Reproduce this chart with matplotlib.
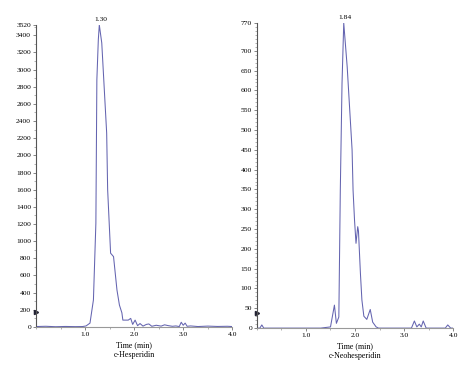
import numpy as np
import matplotlib
matplotlib.use("Agg")
import matplotlib.pyplot as plt
from matplotlib.ticker import MultipleLocator, FixedLocator

plt.rcParams['font.family'] = ['Liberation Serif', 'DejaVu Serif']

# c-Hesperidin chromatogram (time in min, intensity)
hesp_t = [0.0, 0.2, 0.4, 0.6, 0.8, 0.95, 1.02, 1.10, 1.17, 1.22, 1.24, 1.27, 1.29,
          1.34, 1.44, 1.46, 1.52, 1.58, 1.65, 1.70, 1.75, 1.77, 1.88, 1.93, 1.97,
          2.02, 2.07, 2.12, 2.18, 2.25, 2.30, 2.36, 2.45, 2.55, 2.62, 2.70, 2.78,
          2.85, 2.92, 2.96, 3.00, 3.04, 3.08, 3.15, 3.30, 3.50, 3.70, 3.90, 4.0]
hesp_v = [5, 8, 3, 6, 4, 5, 12, 45, 315, 1210, 2880, 3350, 3520,
          3310, 2260, 1600, 860, 820, 430, 255, 165, 80, 80, 100, 30,
          80, 15, 40, 10, 30, 35, 8, 20, 10, 25, 15, 8,
          12, 5, 55, 20, 45, 8, 12, 5, 10, 6, 8, 5]

# c-Neohesperidin chromatogram
neo_t = [0.0, 0.06, 0.10, 0.14, 0.2, 0.6, 1.0, 1.3, 1.50, 1.58, 1.62, 1.67, 1.70,
         1.735, 1.77, 1.84, 1.94, 1.96, 1.99, 2.02, 2.055, 2.07, 2.11, 2.14,
         2.18, 2.24, 2.31, 2.36, 2.43, 2.48, 2.8, 3.15, 3.21, 3.26, 3.31, 3.35,
         3.39, 3.45, 3.7, 3.84, 3.89, 3.95, 4.0]
neo_v = [0, 0, 8, 0, 0, 0, 0, 0, 3, 58, 12, 28, 348,
         618, 770, 660, 450, 348, 272, 214, 256, 245, 138, 71,
         30, 22, 47, 15, 3, 0, 0, 0, 18, 3, 10, 3,
         18, 0, 0, 0, 8, 0, 0]

panels = [
    dict(t=hesp_t, v=hesp_v, ymax=3520, major=200, minor=100, peak="1.30",
         name="c-Hesperidin", marker=175, rect=[0.076, 0.135, 0.414, 0.799]),
    dict(t=neo_t, v=neo_v, ymax=770, major=50, minor=10, peak="1.84",
         name="c-Neohesperidin", marker=38, rect=[0.542, 0.132, 0.414, 0.807]),
]

line_col = "#6464b0"
fig = plt.figure(figsize=(4.74, 3.78), dpi=100)

for p in panels:
    ax = fig.add_axes(p["rect"])
    ax.plot(p["t"], p["v"], color=line_col, lw=0.75)
    ax.set_xlim(0, 4.0)
    ax.set_ylim(0, p["ymax"])
    ax.spines["top"].set_visible(False)
    ax.spines["right"].set_visible(False)
    ax.spines["left"].set_color("#555555")
    ax.spines["bottom"].set_color("#999999")
    ax.spines["left"].set_linewidth(0.8)
    ax.spines["bottom"].set_linewidth(0.8)

    yt = list(range(0, p["ymax"] - p["major"] // 2, p["major"])) + [p["ymax"]]
    ax.yaxis.set_major_locator(FixedLocator(yt))
    ax.yaxis.set_minor_locator(MultipleLocator(p["minor"]))
    ax.xaxis.set_major_locator(FixedLocator([1.0, 2.0, 3.0, 4.0]))
    ax.xaxis.set_minor_locator(MultipleLocator(0.5))
    ax.set_xticklabels(["1.0", "2.0", "3.0", "4.0"])
    ax.tick_params(axis="both", which="major", labelsize=5.4, length=2,
                   width=0.5, pad=1.5, color="#555555")
    ax.tick_params(axis="both", which="minor", length=1.2, width=0.4,
                   color="#777777")

    # peak retention time label
    i = int(np.argmax(p["v"]))
    ax.annotate(p["peak"], (p["t"][i], p["v"][i]), xytext=(1, 2),
                textcoords="offset points", ha="center", va="bottom",
                fontsize=5.4, annotation_clip=False)
    # small marker on the y axis
    ax.plot([0], [p["marker"]], marker=">", color="#222233", ms=3,
            clip_on=False, lw=0)

    ax.set_xlabel("Time (min)\n" + p["name"], fontsize=5.8, labelpad=3,
                  linespacing=1.3)

fig.savefig("out.png", dpi=100)
